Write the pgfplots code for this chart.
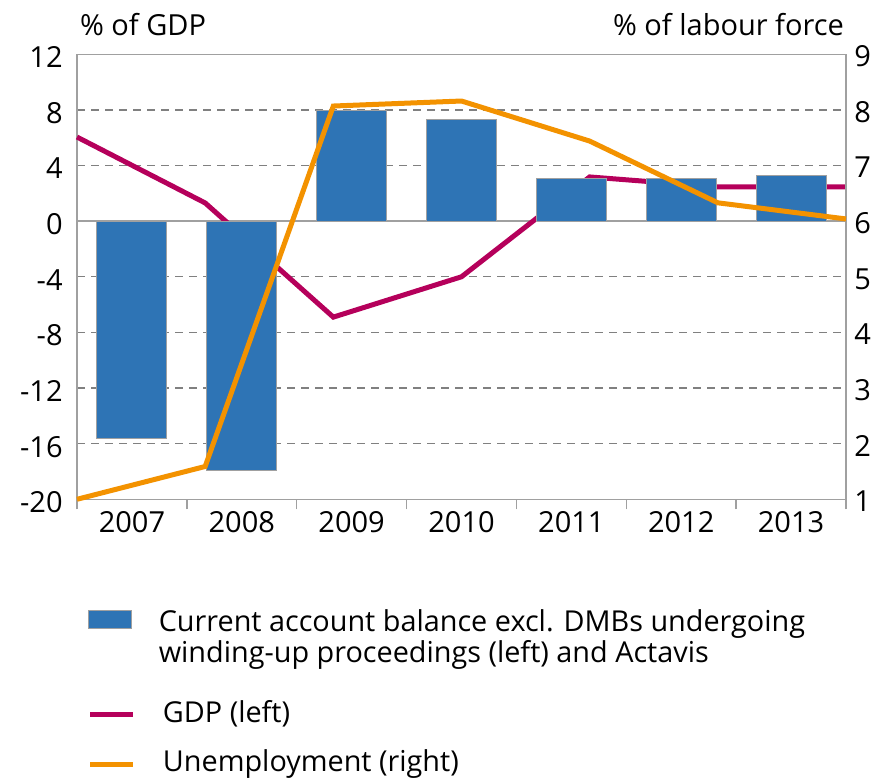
\documentclass[border=0pt]{standalone}
\usepackage{pgfplots}
\pgfplotsset{compat=1.18}
\usepackage{pgfplotstable}
\usepackage{fontspec}
\setmainfont{Open Sans}
\definecolor{barblue}{RGB}{46,116,181}
\definecolor{gdpred}{RGB}{181,0,91}
\definecolor{unemp}{RGB}{243,146,0}
\definecolor{framegray}{RGB}{160,160,160}
\definecolor{gridgray}{RGB}{128,128,128}

\pgfplotstableread{
x y
0 -15.6
1 -17.9
2 7.93
3 7.28
4 3.07
5 3.09
6 3.27
}\barsdata
\pgfplotstableread{
x y
-0.5 6.05
0.6667 1.31
1.8333 -6.9
3.0 -4.0
4.1667 3.18
5.3333 2.46
6.5 2.46
}\gdpdata
\pgfplotstableread{
x y
-0.5 1.0
0.6667 1.59
1.8333 8.07
3.0 8.16
4.1667 7.44
5.3333 6.33
6.5 6.04
}\unempdata

\pgfplotsset{
  mylegend/.style={anchor=north west, draw=none, fill=none,
    inner sep=0pt, outer sep=0pt, row sep=0pt, column sep=11.5pt,
    font=\fontsize{14.4}{15.5}\selectfont,
    cells={anchor=base west, inner sep=0pt}},
  samebox/.style={at={(0pt,0pt)}, anchor=south west,
    scale only axis, width=384.5pt, height=222.5pt,
    xmin=-0.5, xmax=6.5, clip=false},
}

\begin{document}
\begin{tikzpicture}
\useasboundingbox (-38.5pt,-139.85pt) rectangle (400pt,249.65pt);
\begin{axis}[
  samebox,
  ymin=-20, ymax=12,
  xtick={0,...,6}, xticklabels={2007,2008,2009,2010,2011,2012,2013},
  minor xtick={-0.5,0.5,...,6.5},
  ytick={-20,-16,...,12}, yticklabels={-20,-16,-12,-8,-4,0,4,8,12},
  major tick length=0pt, minor tick length=5pt, tick align=outside,
  tick pos=left,
  minor tick style={framegray, line width=0.75pt},
  axis line style={framegray, line width=0.75pt},
  ymajorgrids,
  major grid style={gridgray, line width=0.6pt, dash pattern=on 4pt off 3pt},
  extra y ticks={0}, extra y tick labels={},
  extra y tick style={grid=major, major grid style={solid, framegray, line width=0.75pt}},
  tick label style={font=\fontsize{14.5}{17}\selectfont},
  xticklabel style={anchor=base, inner sep=0pt, yshift=-16.85pt},
  yticklabel style={anchor=east, inner sep=0pt, xshift=-7pt, yshift=-1.5pt},
  legend style={mylegend, at={(0.0143,-0.2286)}},
]
\addplot[gdpred, line width=2.5pt, no markers, forget plot] table {\gdpdata};
\addplot[ybar, bar width=35pt, fill=barblue, draw=framegray, line width=0.5pt,
  legend image code/.code={\draw[fill=barblue, draw=framegray, line width=0.4pt] (0pt,1.5pt) rectangle (21.5pt,10.5pt);}] table {\barsdata};
\addlegendentry{\begin{tabular}[t]{@{}l@{}}\rule{0pt}{13pt}Current account balance excl. DMBs undergoing\\winding-up proceedings (left) and Actavis\end{tabular}}
\node[anchor=base west, xshift=-2pt, yshift=9.3pt, font=\fontsize{14.5}{17}\selectfont] at (rel axis cs:0,1) {\% of GDP};
\node[anchor=base east, xshift=2.5pt, yshift=9.3pt, font=\fontsize{14.5}{17}\selectfont] at (rel axis cs:1,1) {\% of labour force};
\end{axis}
\begin{axis}[
  samebox, ymin=-20, ymax=12, hide axis,
  legend style={mylegend, at={(0.0143,-0.4331)}},
]
\addlegendimage{legend image code/.code={\draw[gdpred, line width=2.5pt] (0pt,3.75pt) -- (21.5pt,3.75pt);}}
\addlegendentry{\rule{0pt}{13pt}GDP (left)}
\end{axis}
\begin{axis}[
  samebox,
  ymin=1, ymax=9,
  axis x line=none, axis y line*=right,
  ytick={1,...,9}, yticklabels={1,2,3,4,5,6,7,8,9},
  major tick length=0pt,
  y axis line style={-},
  axis line style={framegray, line width=0.75pt},
  tick label style={font=\fontsize{14.5}{17}\selectfont},
  yticklabel style={anchor=west, inner sep=0pt, xshift=4pt, yshift=-1pt},
  legend style={mylegend, at={(0.0143,-0.5454)}},
]
\addplot[unemp, line width=2.5pt, no markers, legend image code/.code={\draw[unemp, line width=2.5pt] (0pt,3.75pt) -- (21.5pt,3.75pt);}] table {\unempdata};
\addlegendentry{\rule{0pt}{13pt}Unemployment (right)}
\end{axis}
\end{tikzpicture}
\end{document}
